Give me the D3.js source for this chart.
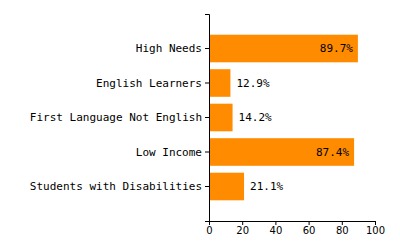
<!DOCTYPE html>
<html>
<head>
<meta charset="utf-8">
<script src="https://cdn.jsdelivr.net/npm/d3@7"></script>
<style>
  html, body { margin: 0; padding: 0; background: #fff; }
  #chart { width: 400px; height: 250px; }
</style>
</head>
<body>
<div id="chart"></div>
<script>
// Horizontal bar chart: share of students by group (percent)
const categories = ["High Needs", "English Learners", "First Language Not English", "Low Income", "Students with Disabilities"];
const values     = [89.7, 12.9, 14.2, 87.4, 21.1];
const xTicks     = [0, 20, 40, 60, 80, 100];

const W = 400, H = 250;
const m = { top: 14, right: 25, bottom: 29, left: 209 };
const iw = W - m.left - m.right;
const ih = H - m.top - m.bottom;

const mono = "'DejaVu Sans Mono', 'Liberation Mono', monospace";

const xScale = d3.scaleLinear().domain([0, 100]).range([0, iw]);
const yScale = d3.scaleBand()
  .domain(categories)
  .range([0, ih])
  .paddingInner(0.2)
  .paddingOuter(0.6);

const svg = d3.select("#chart").append("svg")
  .attr("width", W)
  .attr("height", H);

const g = svg.append("g").attr("transform", `translate(${m.left},${m.top})`);

// Bars
categories.forEach((c, i) => {
  const v = values[i];
  g.append("rect")
    .attr("x", 0)
    .attr("y", yScale(c))
    .attr("width", xScale(v))
    .attr("height", yScale.bandwidth())
    .attr("fill", "#ff8c00");

  // big bars get the label inside, small ones just past the end
  const inside = v > 50;
  g.append("text")
    .attr("x", inside ? xScale(v) - 5 : xScale(v) + 6)
    .attr("y", yScale(c) + yScale.bandwidth() / 2)
    .attr("dy", "0.35em")
    .attr("text-anchor", inside ? "end" : "start")
    .attr("fill", "#000")
    .attr("font-size", "11px")
    .attr("font-family", mono)
    .text(v.toFixed(1) + "%");
});

// Y axis
const yAxisG = g.append("g")
  .call(d3.axisLeft(yScale).tickSize(4).tickSizeOuter(4).tickPadding(3));
yAxisG.selectAll("path, line").attr("stroke", "#000");
yAxisG.selectAll("text")
  .attr("fill", "#000")
  .attr("font-size", "11px")
  .attr("font-family", mono);

// X axis
const xAxisG = g.append("g")
  .attr("transform", `translate(0,${ih})`)
  .call(d3.axisBottom(xScale).tickValues(xTicks).tickSize(4).tickSizeOuter(4).tickPadding(2));
xAxisG.selectAll("path, line").attr("stroke", "#000");
xAxisG.selectAll("text")
  .attr("fill", "#000")
  .attr("font-size", "10px")
  .attr("font-family", "'DejaVu Sans', Verdana, sans-serif");
</script>
</body>
</html>
